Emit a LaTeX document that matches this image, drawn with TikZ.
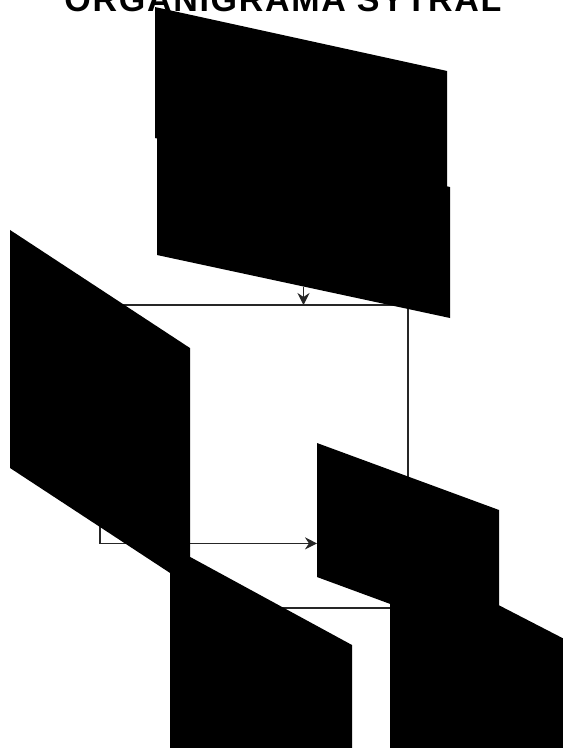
\documentclass[tikz,border=0pt]{standalone}
\usepackage{fontspec}
\newfontfamily\titlefont[LetterSpace=5]{Liberation Sans}
\usepackage{tikz}
\usetikzlibrary{arrows.meta,positioning,backgrounds}

\begin{document}
\begin{tikzpicture}[x=1pt, y=-1pt,
  bloque/.style={fill=black, inner sep=0pt, outer sep=0pt},
  linea/.style={draw=black!85, line width=1.2pt},
  flecha/.style={linea, -{Stealth[length=12pt, width=12pt, inset=4pt]}}]
\useasboundingbox (0,0) rectangle (563,748);
\clip (0,0) rectangle (563,748);

\node[font=\titlefont\bfseries\fontsize{34}{40}\selectfont, anchor=base] (titulo) at (283,11) {ORGANIGRAMA SYTRAL};

\node[bloque, minimum width=292pt, minimum height=131pt, yslant=-0.219] (presidencia) at (301,104.5) {};
\node[bloque, minimum width=293pt, minimum height=131pt, yslant=-0.215] (consejo) at (303.5,221) {};
\node[bloque, minimum width=180pt, minimum height=238pt, yslant=-0.656] (gerencia) at (100,408) {};
\node[bloque, minimum width=182pt, minimum height=134pt, yslant=-0.368] (direccion) at (408,543.5) {};
\node[bloque, minimum width=182pt, minimum height=250pt, yslant=-0.544] (areaA) at (261,720.5) {};
\node[bloque, minimum width=182pt, minimum height=250pt, yslant=-0.516] (areaB) at (481,721) {};

\coordinate (bus) at (302,305);
\coordinate (enlace) at (340,608);

\begin{scope}[on background layer]
\draw[flecha] (consejo.south) -- (consejo.south |- bus);
\draw[linea] (gerencia.center |- bus) -| (direccion.north);
\draw[flecha] (gerencia.center) |- (direccion);
\draw[linea] (areaA.center |- enlace) -- (areaB.center |- enlace);
\end{scope}
\end{tikzpicture}
\end{document}
